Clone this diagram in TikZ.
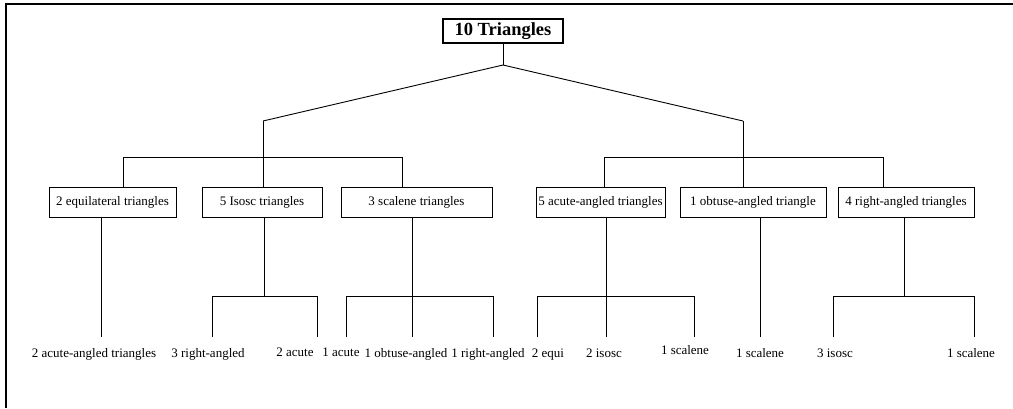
\documentclass[tikz,border=0pt]{standalone}
\usepackage{fontspec}
\setmainfont{Liberation Serif}
\begin{document}
\begin{tikzpicture}[x=1pt,y=-1pt,
  conn/.style={line width=0.9pt},
  catbox/.style={draw,line width=1pt,rectangle,inner sep=0pt,minimum height=30pt,
    font=\fontsize{13}{15}\selectfont,anchor=center},
  topbox/.style={draw,line width=1.1pt,rectangle,inner sep=0pt,minimum height=24pt,minimum width=120pt,
    font=\fontsize{18.5}{20}\selectfont\bfseries},
  leaf/.style={inner sep=0pt,anchor=base,font=\fontsize{13}{15}\selectfont}]
\useasboundingbox (0,0) rectangle (1013,408);
\draw[line width=2pt] (6,408) -- (6,4) -- (1013,4);

\node[topbox] (top) at (503,31) {10 Triangles};
\node[catbox,minimum width=127pt] (b1) at (112.5,202) {2 equilateral triangles};
\node[catbox,minimum width=120pt] (b2) at (262,202) {5 Isosc triangles};
\node[catbox,minimum width=151pt] (b3) at (416.5,202) {3 scalene triangles};
\node[catbox,minimum width=129pt] (b4) at (600.5,202) {5 acute-angled triangles};
\node[catbox,minimum width=146pt] (b5) at (753,202) {1 obtuse-angled triangle};
\node[catbox,minimum width=136pt] (b6) at (906,202) {4 right-angled triangles};

\coordinate (j0) at (503,65);
\coordinate (jL) at (263,121);
\coordinate (jR) at (743,121);
\coordinate (hL1) at (123,157);
\coordinate (hL2) at (402,157);
\coordinate (hR1) at (604,157);
\coordinate (hR2) at (883,157);

\draw[conn] (top.south) -- (j0);
\draw[conn] (j0) -- (jL);
\draw[conn] (j0) -- (jR);
\draw[conn] (jL) -- (jL |- b2.north);
\draw[conn] (jR) -- (jR |- b5.north);
\draw[conn] (hL1 |- b1.north) -- (hL1) -- (hL2) -- (hL2 |- b3.north);
\draw[conn] (hR1 |- b4.north) -- (hR1) -- (hR2) -- (hR2 |- b6.north);

% lower level
\coordinate (e1) at (101,337);
\coordinate (k2) at (264,296);
\coordinate (e2a) at (212,337);
\coordinate (e2b) at (317,337);
\coordinate (k3) at (412,296);
\coordinate (e3a) at (346,337);
\coordinate (e3b) at (412,337);
\coordinate (e3c) at (493,337);
\coordinate (k4) at (606,296);
\coordinate (e4a) at (537,337);
\coordinate (e4b) at (606,337);
\coordinate (e4c) at (694,337);
\coordinate (e5) at (760,337);
\coordinate (k6) at (904,296);
\coordinate (e6a) at (833,337);
\coordinate (e6b) at (974,337);

\draw[conn] (e1 |- b1.south) -- (e1);
\draw[conn] (k2 |- b2.south) -- (k2);
\draw[conn] (e2a) -- (e2a |- k2) -- (e2b |- k2) -- (e2b);
\draw[conn] (k3 |- b3.south) -- (e3b);
\draw[conn] (e3a) -- (e3a |- k3) -- (e3c |- k3) -- (e3c);
\draw[conn] (k4 |- b4.south) -- (e4b);
\draw[conn] (e4a) -- (e4a |- k4) -- (e4c |- k4) -- (e4c);
\draw[conn] (e5 |- b5.south) -- (e5);
\draw[conn] (k6 |- b6.south) -- (k6);
\draw[conn] (e6a) -- (e6a |- k6) -- (e6b |- k6) -- (e6b);

\node[leaf] (l1) at (94,357) {2 acute-angled triangles};
\node[leaf] (l2) at (208,357) {3 right-angled};
\node[leaf] (l3) at (295,356) {2 acute};
\node[leaf] (l4) at (341,356) {1 acute};
\node[leaf] (l5) at (406,357) {1 obtuse-angled};
\node[leaf] (l6) at (488,357) {1 right-angled};
\node[leaf] (l7) at (548,357) {2 equi};
\node[leaf] (l8) at (604,357) {2 isosc};
\node[leaf] (l9) at (685,354) {1 scalene};
\node[leaf] (l10) at (760,357) {1 scalene};
\node[leaf] (l11) at (835,357) {3 isosc};
\node[leaf] (l12) at (971,357) {1 scalene};
\end{tikzpicture}
\end{document}
